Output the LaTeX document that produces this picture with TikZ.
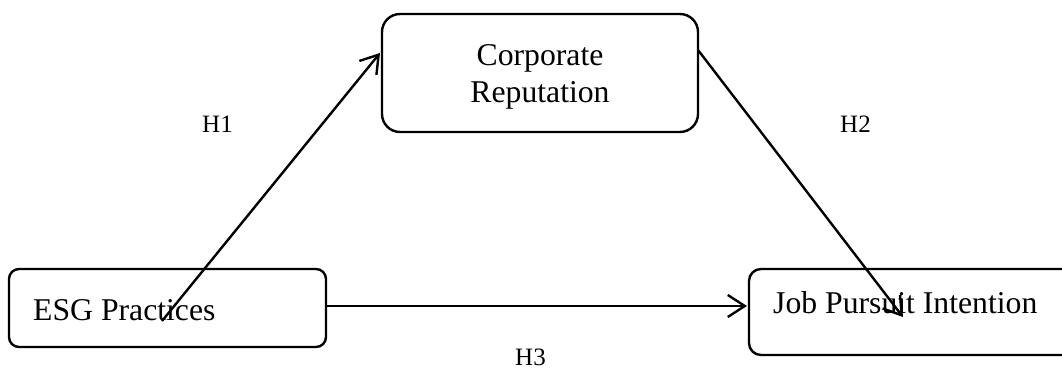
\documentclass[tikz,border=0pt]{standalone}
\usepackage{fontspec}
\setmainfont{Liberation Serif}
\usetikzlibrary{arrows.meta}
\begin{document}
\begin{tikzpicture}[x=1pt,y=-1pt,
  box/.style={draw, line width=2.4pt, inner sep=0pt},
  lbl/.style={font=\fontsize{31.7}{37}\selectfont, inner sep=0pt},
  hyp/.style={font=\fontsize{25}{30}\selectfont, inner sep=0pt, anchor=base west},
  arr/.style={line width=2.4pt, -{Straight Barb[length=17pt,width=22pt]}}]
\useasboundingbox (0,0) rectangle (1062,372);
\clip (0,0) rectangle (1062,372);
% boxes
\node[box, rounded corners=10pt, minimum width=317pt, minimum height=78pt] (esg) at (167.5,308) {};
\node[box, rounded corners=18pt, minimum width=316pt, minimum height=118pt] (cr) at (540,73) {};
\node[box, rounded corners=12pt, minimum width=341pt, minimum height=86pt] (jpi) at (919.5,312) {};
% texts
\node[lbl, anchor=base west] (esgt) at (33,320) {ESG Practices};
\node[lbl, anchor=base] (crt1) at (540,65) {Corporate};
\node[lbl, anchor=base] (crt2) at (540,102) {Reputation};
\node[lbl, anchor=base west] (jpit) at (773,313) {Job Pursuit Intention};
% hypothesis labels
\node[hyp] (h1) at (202,132) {H1};
\node[hyp] (h2) at (840,132) {H2};
\node[hyp] (h3) at (515,365) {H3};
% connector ends
\coordinate (h1s) at (162,321);
\coordinate (h1e) at (380,53);
\coordinate (h2s) at (698,50);
\coordinate (h2e) at (903,317);
\coordinate (h3s) at (326,306);
\coordinate (h3e) at (747,306);
% connectors
\draw[arr] (h1s) -- (h1e);
\draw[arr] (h2s) -- (h2e);
\draw[arr] (h3s) -- (h3e);
\end{tikzpicture}
\end{document}
